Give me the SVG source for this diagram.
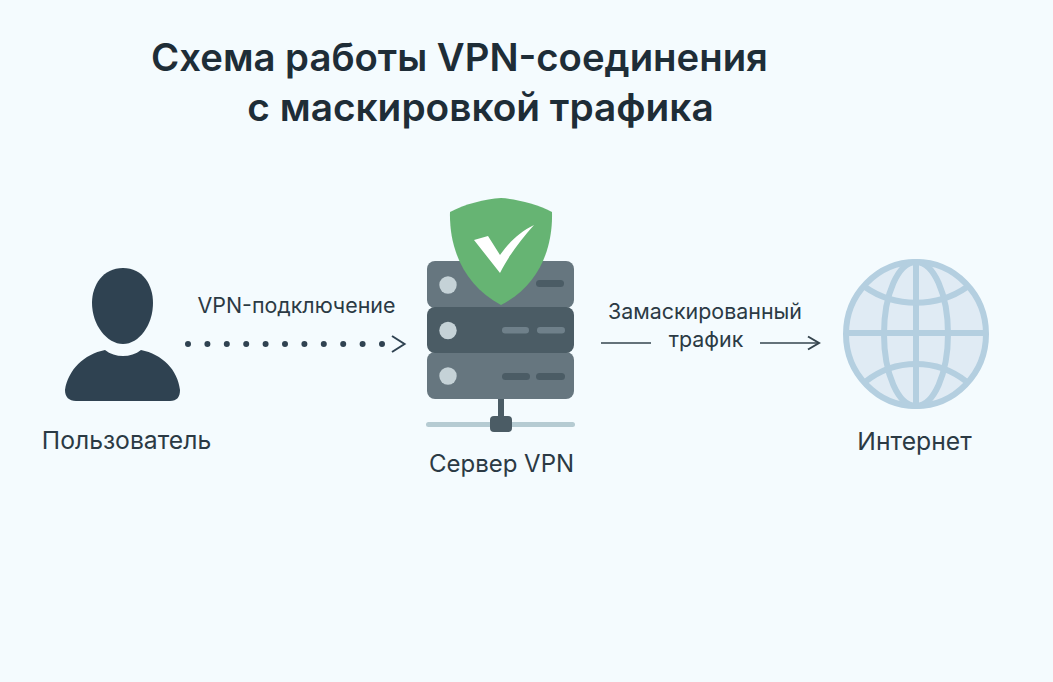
<svg xmlns="http://www.w3.org/2000/svg" width="1053" height="682" viewBox="0 0 1053 682">
<style>
text{font-family:Inter,"Noto Sans","Liberation Sans",sans-serif;fill:#2b3a44;text-anchor:middle}
.t{font-size:38.300px;font-weight:600;fill:#1e2d37}
.t2{font-size:38.800px}
.l{font-size:24.700px;font-weight:400}
.m{font-size:24px}
.s{font-size:21.400px;font-weight:400}
.g{fill:none;stroke:#b4cfe0;stroke-width:6}
.led{fill:#c5d2d7}
.b1{fill:#4b5c65}
.b2{fill:#6f808a}
</style>
<rect width="1053" height="682" fill="#f4fbfe"/>
<g id="title">
<text class="t" x="459.500" y="71">Схема работы VPN-соединения</text>
<text class="t t2" x="480.500" y="121">с маскировкой трафика</text>
</g>
<g id="connectors">
<line x1="188" y1="344" x2="384" y2="344" stroke="#2f4251" stroke-width="6" stroke-linecap="round" stroke-dasharray="0 19.400"/>
<path d="M392 336L404.500 344L392 352" fill="none" stroke="#2f4251" stroke-width="2"/>
<line x1="601" y1="343" x2="651" y2="343" stroke="#35444e" stroke-width="1.500"/>
<line x1="760" y1="343" x2="818" y2="343" stroke="#35444e" stroke-width="1.500"/>
<path d="M808 336.500L819 343L808 349.500" fill="none" stroke="#35444e" stroke-width="2"/>
<text class="s" x="296.500" y="313">VPN-подключение</text>
<text class="s" x="705" y="319">Замаскированный</text>
<text class="s" x="706" y="347">трафик</text>
</g>
<g id="user">
<path fill="#2f4251" d="M123 268C143 268 153 285 153 303C153 325 139 344 123 344C107 344 92 325 92 303C92 285 103 268 123 268Z"/>
<path fill="#2f4251" d="M105 350C115 358 131 358 141 350C162 354 178 370 180 390C180 397 177 401 170 401H76C69 401 65 397 65 390C68 370 84 354 105 350Z"/>
<text class="l" x="126.500" y="449">Пользователь</text>
</g>
<g id="server">
<rect x="498" y="398" width="6" height="22" fill="#4b5c65"/>
<rect x="426" y="422" width="149" height="5" rx="2.500" fill="#b5cbd2"/>
<rect x="490" y="416" width="22" height="16" rx="4" fill="#4b5c65"/>
<rect x="427" y="261" width="147" height="47" rx="8" fill="#66767f"/>
<rect x="427" y="352" width="147" height="47" rx="8" fill="#66767f"/>
<rect x="427" y="307" width="147" height="46" rx="8" fill="#4b5c65"/>
<circle class="led" cx="448" cy="285" r="8.700"/>
<circle class="led" cx="448" cy="330.500" r="8.700"/>
<circle class="led" cx="448" cy="376" r="8.700"/>
<rect class="b1" x="536" y="280" width="28" height="7" rx="3.500"/>
<rect class="b2" x="502" y="327" width="27" height="6.500" rx="3.200"/>
<rect class="b2" x="537" y="327" width="28" height="6.500" rx="3.200"/>
<rect class="b1" x="502" y="373" width="28" height="7" rx="3.500"/>
<rect class="b1" x="536" y="373" width="29" height="7" rx="3.500"/>
<path fill="#66b473" d="M501 198C517 199 537 204 552 212C553 250 538 286 501 305C465 286 449 250 450 212C465 204 485 199 501 198Z"/>
<path fill="#fff" d="M474 240L488 236L500 255C510 241 520 232 534 225C520 241 509 255 500 273Z"/>
<text class="l m" x="501.500" y="472">Сервер VPN</text>
</g>
<g id="internet">
<ellipse cx="916" cy="334" rx="70" ry="72" fill="#e0ebf4" stroke="#b4cfe0" stroke-width="6"/>
<ellipse class="g" cx="916" cy="334" rx="32" ry="72"/>
<line class="g" x1="916" y1="262" x2="916" y2="406"/>
<line class="g" x1="846" y1="333" x2="986" y2="333"/>
<path class="g" d="M865 287C895 308 937 308 967 287"/>
<path class="g" d="M865 382C895 358 937 358 967 382"/>
<text class="l" x="914.500" y="450">Интернет</text>
</g>
</svg>
